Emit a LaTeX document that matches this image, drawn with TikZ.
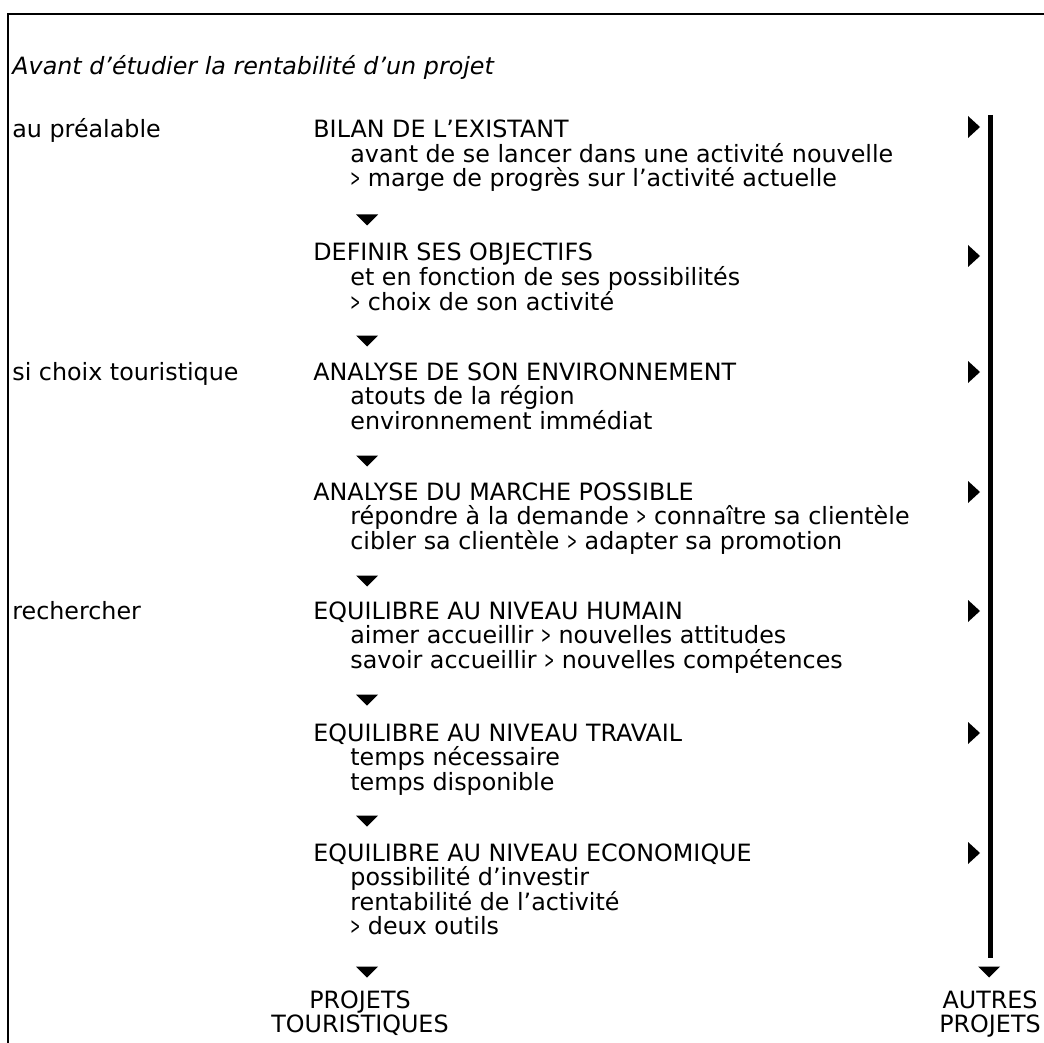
\documentclass[tikz,border=0pt]{standalone}
\usepackage{fontspec}
\setmainfont{DejaVu Sans}
\usepackage{graphicx}
\usepackage{tikz}
\usetikzlibrary{positioning}
\newcommand{\narrowgt}{\scalebox{0.5}[1]{>}}
\newcommand{\rmark}[1]{\fill (968,#1-11) -- (980,#1) -- (968,#1+11) -- cycle;}
\newcommand{\dmark}[2]{\fill (#1-11,#2-5.5) -- (#1+11,#2-5.5) -- (#1,#2+5.5) -- cycle;}
\tikzset{
  every picture/.style = {
    x = 0.5pt,
    y = -0.5pt
  }
  ,
  txt/.style = {
    anchor = base west,
    inner sep = 0pt,
    font = \fontsize{11.9}{12.25}\selectfont
  }
  , % titles of the projects at the bottom
  proj/.style = {
    txt,
    anchor = base
  }
  ,
  frame/.style = {
    line width = 1.25pt
  }
  ,
  axis/.style = {
    line width = 2.5pt
  }
}
\begin{document}
\begin{tikzpicture}
\useasboundingbox (0,0) rectangle (1044,1043);
\clip (0,0) rectangle (1044,1043);
\draw[frame] (1100,14) -- (8,14) -- (8,1100);
\node[txt, font=\fontsize{11.9}{12.25}\selectfont\itshape] (titre) at (12,75) {Avant d’étudier la rentabilité d’un projet};
% left column
\node[txt] (prealable) at (12,138) {au préalable};
\node[txt] (choix) at (12,380) {si choix touristique};
\node[txt] (rechercher) at (12,619) {rechercher};
% steps
\node[txt] (bilan) at (313,138) {BILAN DE L’EXISTANT};
\node[txt] (bilan1) at ([shift={(37,24.5)}]bilan.base west) {avant de se lancer dans une activité nouvelle};
\node[txt] (bilan2) at ([shift={(0,24.5)}]bilan1.base west) {\narrowgt{} marge de progrès sur l’activité actuelle};
\node[txt] (objectifs) at (313,261) {DEFINIR SES OBJECTIFS};
\node[txt] (objectifs1) at ([shift={(37,24.5)}]objectifs.base west) {et en fonction de ses possibilités};
\node[txt] (objectifs2) at ([shift={(0,24.5)}]objectifs1.base west) {\narrowgt{} choix de son activité};
\node[txt] (environ) at (313,380) {ANALYSE DE SON ENVIRONNEMENT};
\node[txt] (environ1) at ([shift={(37,24.5)}]environ.base west) {atouts de la région};
\node[txt] (environ2) at ([shift={(0,24.5)}]environ1.base west) {environnement immédiat};
\node[txt] (marche) at (313,500) {ANALYSE DU MARCHE POSSIBLE};
\node[txt] (marche1) at ([shift={(37,24.5)}]marche.base west) {répondre à la demande \narrowgt{} connaître sa clientèle};
\node[txt] (marche2) at ([shift={(0,24.5)}]marche1.base west) {cibler sa clientèle \narrowgt{} adapter sa promotion};
\node[txt] (humain) at (313,619) {EQUILIBRE AU NIVEAU HUMAIN};
\node[txt] (humain1) at ([shift={(37,24.5)}]humain.base west) {aimer accueillir \narrowgt{} nouvelles attitudes};
\node[txt] (humain2) at ([shift={(0,24.5)}]humain1.base west) {savoir accueillir \narrowgt{} nouvelles compétences};
\node[txt] (travail) at (313,741) {EQUILIBRE AU NIVEAU TRAVAIL};
\node[txt] (travail1) at ([shift={(37,24.5)}]travail.base west) {temps nécessaire};
\node[txt] (travail2) at ([shift={(0,24.5)}]travail1.base west) {temps disponible};
\node[txt] (eco) at (313,861) {EQUILIBRE AU NIVEAU ECONOMIQUE};
\node[txt] (eco1) at ([shift={(37,24.5)}]eco.base west) {possibilité d’investir};
\node[txt] (eco2) at ([shift={(0,24.5)}]eco1.base west) {rentabilité de l’activité};
\node[txt] (eco3) at ([shift={(0,24.5)}]eco2.base west) {\narrowgt{} deux outils};
% outcomes
\node[proj] (touristiques) at (360,1008) {PROJETS};
\node[proj] (touristiques2) at (360,1032) {TOURISTIQUES};
\node[proj] (autres) at (990,1008) {AUTRES};
\node[proj] (autres2) at (990,1032) {PROJETS};
% marks
\dmark{367}{220}
\dmark{367}{341}
\dmark{367}{461}
\dmark{367}{581}
\dmark{367}{700}
\dmark{367}{821}
\dmark{367}{972}
\dmark{989}{972}
\rmark{127}
\rmark{256}
\rmark{372}
\rmark{492}
\rmark{611}
\rmark{733}
\rmark{853}
\coordinate (haut) at (990,115);
\coordinate (bas) at (990,958);
\draw[axis] (haut) -- (bas);
\end{tikzpicture}
\end{document}
